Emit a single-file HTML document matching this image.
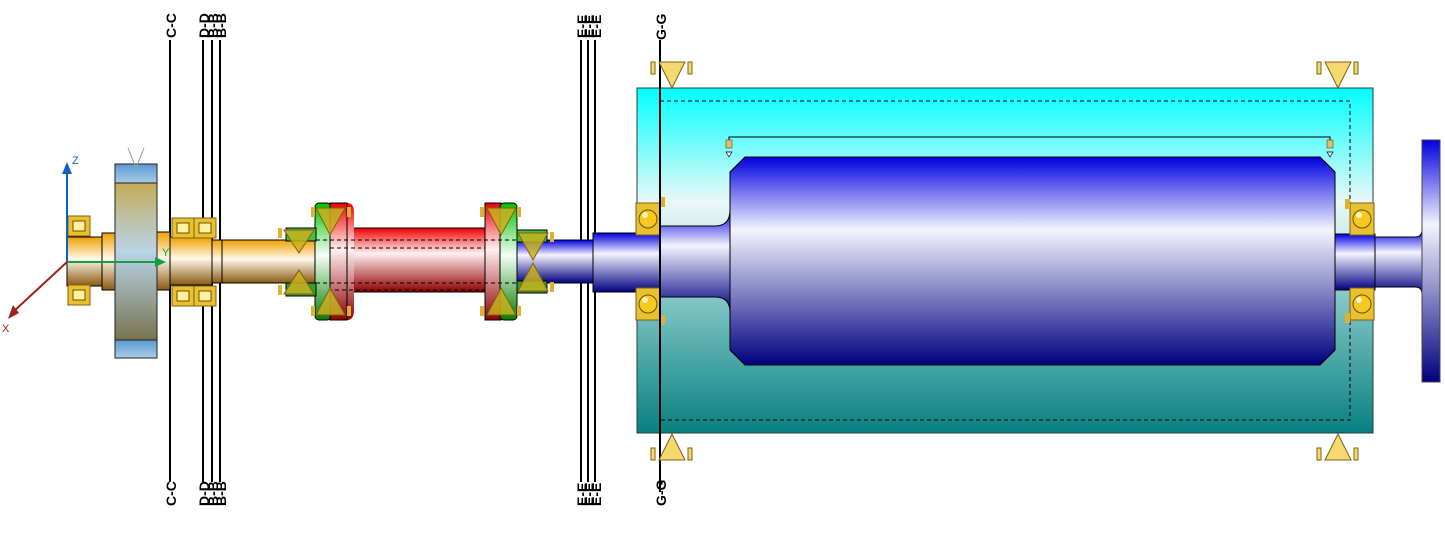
<!DOCTYPE html>
<html><head><meta charset="utf-8"><style>
html,body{margin:0;padding:0;background:#fff;width:1445px;height:544px;overflow:hidden}
svg text{font-family:"Liberation Sans",sans-serif}
</style></head><body>
<svg width="1445" height="544" viewBox="0 0 1445 544" xmlns="http://www.w3.org/2000/svg">
<defs>
<linearGradient id="gold" x1="0" y1="0" x2="0" y2="1"><stop offset="0" stop-color="#f0a000"/><stop offset="0.45" stop-color="#fff8ea"/><stop offset="1" stop-color="#8a5a10"/></linearGradient>
<linearGradient id="disc" x1="0" y1="0" x2="0" y2="1"><stop offset="0" stop-color="#c8a030"/><stop offset="0.45" stop-color="#b8d4e8"/><stop offset="1" stop-color="#6a6030"/></linearGradient>
<linearGradient id="red" x1="0" y1="0" x2="0" y2="1"><stop offset="0" stop-color="#f00000"/><stop offset="0.4" stop-color="#fff0f0"/><stop offset="1" stop-color="#900000"/></linearGradient>
<linearGradient id="green" x1="0" y1="0" x2="0" y2="1"><stop offset="0" stop-color="#00c000"/><stop offset="0.45" stop-color="#f4fff4"/><stop offset="1" stop-color="#008000"/></linearGradient>
<linearGradient id="blue" x1="0" y1="0" x2="0" y2="1"><stop offset="0" stop-color="#0000e0"/><stop offset="0.35" stop-color="#f4f4ff"/><stop offset="1" stop-color="#000080"/></linearGradient>
<linearGradient id="box" x1="0" y1="0" x2="0" y2="1"><stop offset="0" stop-color="#00ffff"/><stop offset="0.33" stop-color="#eaf8f8"/><stop offset="0.45" stop-color="#c8e8e8"/><stop offset="0.62" stop-color="#80c4c4"/><stop offset="1" stop-color="#088080"/></linearGradient>
<linearGradient id="bcap" x1="0" y1="0" x2="0" y2="1"><stop offset="0" stop-color="#5a9ad0"/><stop offset="1" stop-color="#a8cce8"/></linearGradient>
<g id="bear"><rect x="0" y="0" width="24" height="32" fill="#e8c030" stroke="#806010"/><circle cx="12" cy="16" r="9" fill="#f6c820" stroke="#705000"/><circle cx="9" cy="12" r="3" fill="#fff6c0"/></g>
<g id="rb"><rect x="0" y="0" width="22" height="20" fill="#e8c030" stroke="#806010"/><rect x="5" y="5" width="12" height="10" fill="#fff0a0" stroke="#705000"/></g>
</defs>

<!-- section lines -->
<g stroke="#000" stroke-width="2">
<line x1="170" y1="40" x2="170" y2="482"/>
<line x1="203" y1="40" x2="203" y2="482"/>
<line x1="212" y1="40" x2="212" y2="482"/>
<line x1="220" y1="40" x2="220" y2="482"/>
<line x1="581" y1="40" x2="581" y2="482"/>
<line x1="588" y1="40" x2="588" y2="482"/>
<line x1="595" y1="40" x2="595" y2="482"/>
</g>
<g font-size="14" font-weight="bold" fill="#000">
<text transform="translate(176,38) rotate(-90)">C-C</text>
<text transform="translate(209,38) rotate(-90)">D-D</text>
<text transform="translate(218,38) rotate(-90)">B-B</text>
<text transform="translate(226,38) rotate(-90)">B-B</text>
<text transform="translate(587,38) rotate(-90)">E-E</text>
<text transform="translate(594,38) rotate(-90)">E-E</text>
<text transform="translate(601,38) rotate(-90)">E-E</text>
<text transform="translate(666,40) rotate(-90)">G-G</text>
<text transform="translate(176,506) rotate(-90)">C-C</text>
<text transform="translate(209,506) rotate(-90)">D-D</text>
<text transform="translate(218,506) rotate(-90)">B-B</text>
<text transform="translate(226,506) rotate(-90)">B-B</text>
<text transform="translate(587,506) rotate(-90)">E-E</text>
<text transform="translate(594,506) rotate(-90)">E-E</text>
<text transform="translate(601,506) rotate(-90)">E-E</text>
<text transform="translate(666,506) rotate(-90)">G-G</text>
</g>

<!-- big box -->
<rect x="637" y="88" width="736" height="345" fill="url(#box)" stroke="#204040"/>
<rect x="660" y="101" width="690" height="319" fill="none" stroke="#000" stroke-dasharray="4,3"/>
<polyline points="729,148 729,137 1330,137 1330,148" fill="none" stroke="#000"/>
<rect x="726" y="140" width="6" height="8" fill="#e0c060" stroke="#333" stroke-width=".5"/>
<rect x="1327" y="140" width="6" height="8" fill="#e0c060" stroke="#333" stroke-width=".5"/>
<path d="M726 152 l6 0 l-3 5z M1327 152 l6 0 l-3 5z" fill="#fff" stroke="#000" stroke-width=".7"/>

<!-- blue shafts -->
<rect x="517" y="240" width="76" height="43" fill="url(#blue)" stroke="#000"/>
<rect x="593" y="233" width="70" height="59" fill="url(#blue)" stroke="#000"/>
<path d="M660 226 L715 226 Q730 226 730 210 L730 312 Q730 297 715 297 L660 297 Z" fill="url(#blue)" stroke="#000"/>
<path d="M745 157 L1320 157 L1335 172 L1335 350 L1320 365 L745 365 L730 350 L730 172 Z" fill="url(#blue)" stroke="#000"/>
<rect x="1335" y="234" width="40" height="56" fill="url(#blue)" stroke="#000"/>
<path d="M1375 237 L1415 237 Q1422 237 1422 230 L1422 294 Q1422 287 1415 287 L1375 287 Z" fill="url(#blue)" stroke="#000"/>
<rect x="1422" y="140" width="18" height="242" fill="url(#blue)" stroke="#444"/>

<!-- bearings big -->
<use href="#bear" x="636" y="203"/><use href="#bear" x="636" y="288"/>
<use href="#bear" x="1350" y="203"/><use href="#bear" x="1350" y="288"/>
<rect x="660" y="197" width="5" height="10" fill="#e0b030"/><rect x="660" y="315" width="5" height="10" fill="#e0b030"/>
<rect x="1345" y="199" width="5" height="10" fill="#e0b030"/><rect x="1345" y="313" width="5" height="10" fill="#e0b030"/>

<!-- G-G line -->
<line x1="660" y1="40" x2="660" y2="492" stroke="#000" stroke-width="2"/>

<!-- supports -->
<g fill="#f6d870" stroke="#806010">
<path d="M659 62 L685 62 L672 88 Z"/><path d="M1325 62 L1351 62 L1338 88 Z"/>
<path d="M659 460 L685 460 L672 434 Z"/><path d="M1325 460 L1351 460 L1338 434 Z"/>
<rect x="651" y="62" width="4" height="12"/><rect x="688" y="62" width="4" height="12"/>
<rect x="1317" y="62" width="4" height="12"/><rect x="1354" y="62" width="4" height="12"/>
<rect x="651" y="448" width="4" height="12"/><rect x="688" y="448" width="4" height="12"/>
<rect x="1317" y="448" width="4" height="12"/><rect x="1354" y="448" width="4" height="12"/>
</g>

<!-- left shaft -->
<rect x="67" y="237" width="35" height="49" fill="url(#gold)" stroke="#000"/>
<rect x="102" y="233" width="13" height="57" fill="url(#gold)" stroke="#000"/>
<rect x="157" y="232" width="13" height="58" fill="url(#gold)" stroke="#000"/>
<rect x="170" y="237" width="42" height="48" fill="url(#gold)" stroke="#000"/>
<rect x="212" y="240" width="10" height="43" fill="url(#gold)" stroke="#000"/>
<rect x="222" y="240" width="95" height="43" fill="url(#gold)" stroke="#000"/>
<rect x="115" y="164" width="42" height="194" fill="url(#disc)" stroke="#222"/>
<rect x="115" y="164" width="42" height="19" fill="url(#bcap)" stroke="#222"/>
<rect x="115" y="340" width="42" height="18" fill="url(#bcap)" stroke="#222"/>
<path d="M128 148 L136 168 L144 148" fill="none" stroke="#999"/>
<use href="#rb" x="68" y="216"/><use href="#rb" x="68" y="285"/>
<use href="#rb" x="172" y="218"/><use href="#rb" x="194" y="218"/>
<use href="#rb" x="172" y="286"/><use href="#rb" x="194" y="286"/>

<!-- coupling -->
<path d="M347 228 L485 228 L485 292 L347 292 Z" fill="url(#red)" stroke="#000"/>
<path d="M347 203 L347 320 Q354 320 354 310 L354 212 Q354 203 347 203Z" fill="url(#red)"/>
<rect x="315" y="203" width="16" height="117" rx="4" fill="url(#green)" stroke="#000"/>
<rect x="330" y="203" width="17" height="117" fill="url(#red)" stroke="#000"/>
<rect x="485" y="203" width="16" height="117" fill="url(#red)" stroke="#000"/>
<rect x="500" y="203" width="17" height="117" rx="4" fill="url(#green)" stroke="#000"/>
<rect x="286" y="228" width="30" height="13" fill="#40c040" stroke="#000"/>
<rect x="286" y="283" width="30" height="13" fill="#30a030" stroke="#000"/>
<rect x="517" y="230" width="30" height="12" fill="#40c040" stroke="#000"/>
<rect x="517" y="281" width="30" height="12" fill="#30a030" stroke="#000"/>
<rect x="330" y="248" width="155" height="42" fill="none" stroke="#000" stroke-dasharray="4,3"/>
<line x1="316" y1="240" x2="517" y2="240" stroke="#000" stroke-dasharray="4,3"/>
<line x1="316" y1="283" x2="517" y2="283" stroke="#000" stroke-dasharray="4,3"/>
<g fill="#c8b020" fill-opacity=".85" stroke="#806010">
<path d="M284 230 L314 230 L299 253Z"/><path d="M284 294 L314 294 L299 270Z"/>
<path d="M316 208 L345 208 L330 235Z"/><path d="M316 315 L345 315 L330 288Z"/>
<path d="M487 208 L516 208 L501 235Z"/><path d="M487 315 L516 315 L501 288Z"/>
<path d="M518 233 L548 233 L533 260Z"/><path d="M518 291 L548 291 L533 263Z"/>
</g>
<g fill="#e0b030">
<rect x="278" y="228" width="4" height="10"/><rect x="278" y="285" width="4" height="10"/>
<rect x="311" y="207" width="4" height="10"/><rect x="347" y="207" width="4" height="10"/>
<rect x="311" y="306" width="4" height="10"/><rect x="347" y="306" width="4" height="10"/>
<rect x="480" y="207" width="4" height="10"/><rect x="517" y="207" width="4" height="10"/>
<rect x="480" y="306" width="4" height="10"/><rect x="517" y="306" width="4" height="10"/>
<rect x="550" y="232" width="4" height="10"/><rect x="550" y="282" width="4" height="10"/>
</g>

<!-- axes -->
<line x1="67" y1="262" x2="67" y2="172" stroke="#1060c0" stroke-width="2"/>
<path d="M62 174 L67 162 L72 174Z" fill="#1060c0"/>
<text x="72" y="164" font-size="11" fill="#1060c0">Z</text>
<line x1="67" y1="262" x2="155" y2="262" stroke="#10a040" stroke-width="2"/>
<path d="M155 257 L166 262 L155 267Z" fill="#10a040"/>
<text x="162" y="256" font-size="11" fill="#10a040">Y</text>
<line x1="67" y1="262" x2="13" y2="312" stroke="#a02020" stroke-width="2"/>
<path d="M8 319 L13 305 L19 313Z" fill="#a02020"/>
<text x="2" y="332" font-size="11" fill="#a02020">X</text>
</svg>
</body></html>
